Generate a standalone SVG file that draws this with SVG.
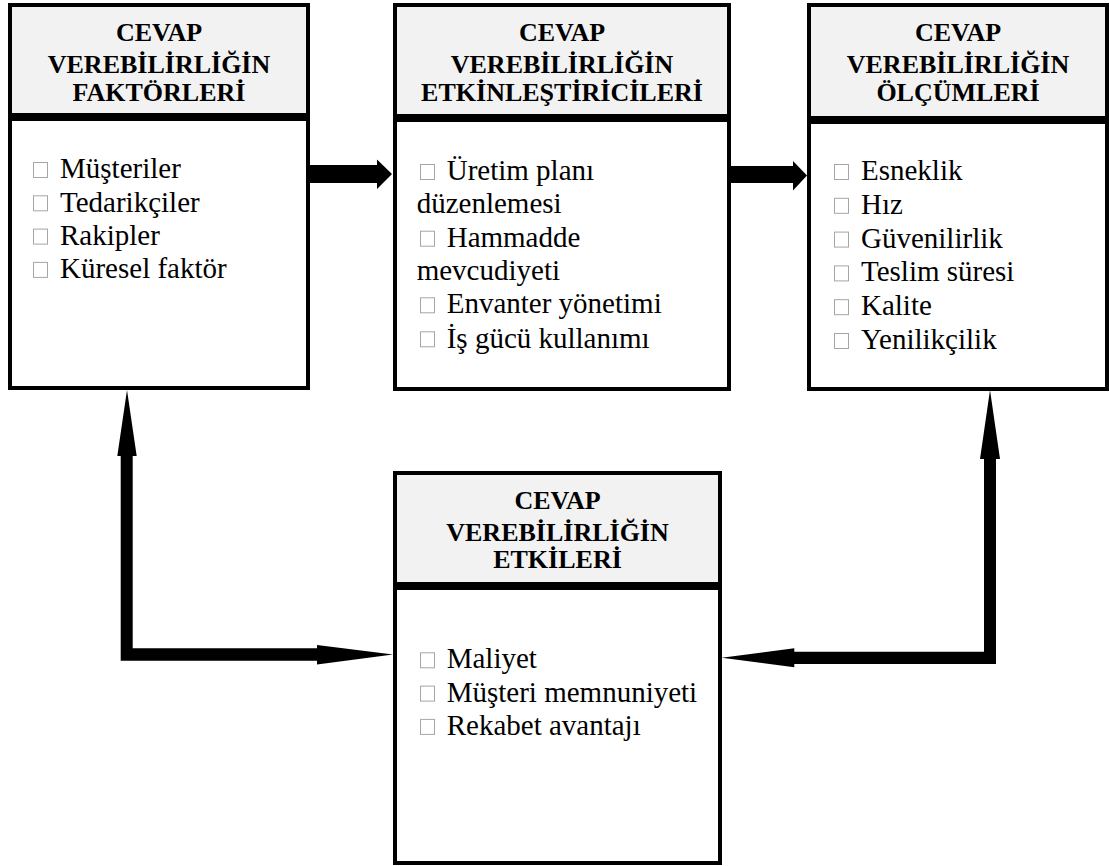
<svg xmlns="http://www.w3.org/2000/svg" width="1109" height="866" viewBox="0 0 1109 866">
<style>
.hd{fill:#f2f2f2;stroke:#000;stroke-width:4}
.bd{fill:#fff;stroke:#000;stroke-width:4}
.ht{font-family:"Liberation Serif","Times New Roman",serif;font-weight:bold;font-size:26px;fill:#000;text-anchor:middle}
.bt{font-family:"Liberation Serif","Times New Roman",serif;font-size:29px;fill:#000}
.cb{fill:none;stroke:#a6a6a6;stroke-width:1}
.ar{fill:#000;stroke:none}
</style>
<rect width="1109" height="866" fill="#fff"/>
<g id="connectors">
<path class="ar" d="M310,165 L377,165 L377,159.5 L392,174 L377,189 L377,183 L310,183 Z"/>
<path class="ar" d="M731,166 L793,166 L793,161 L807,175.5 L793,190.5 L793,183 L731,183 Z"/>
<path class="ar" d="M120.7,660.7 L120.7,456 L117.3,456 L127,390 L136.7,456 L132.7,456 L132.7,648.3 L317,648.3 L317,645 L393,654.5 L317,664.5 L317,660.7 Z"/>
<path class="ar" d="M996,664 L996,459 L1000,459 L990,390 L980,459 L984,459 L984,651.7 L794.3,651.7 L794.3,648.3 L721.7,657.8 L794.3,667.3 L794.3,664 Z"/>
</g>
<g id="node-faktorler">
<rect class="hd" x="10" y="5" width="298" height="110"/>
<rect class="bd" x="10" y="119" width="298" height="269"/>
<text class="ht" x="159" y="40.7">CEVAP</text>
<text class="ht" x="159" y="73.3">VEREBİLİRLİĞİN</text>
<text class="ht" x="159" y="100.7">FAKTÖRLERİ</text>
<rect class="cb" x="33.5" y="162.5" width="14" height="15"/>
<rect class="cb" x="33.5" y="195.8" width="14" height="15"/>
<rect class="cb" x="33.5" y="229.1" width="14" height="15"/>
<rect class="cb" x="33.5" y="262.4" width="14" height="15"/>
<text class="bt" x="60" y="178.3">Müşteriler</text>
<text class="bt" x="60" y="211.6">Tedarikçiler</text>
<text class="bt" x="60" y="244.9">Rakipler</text>
<text class="bt" x="60" y="278.2">Küresel faktör</text>
</g>
<g id="node-etkinlestiriciler">
<rect class="hd" x="395" y="5" width="334" height="111"/>
<rect class="bd" x="395" y="120" width="334" height="269"/>
<text class="ht" x="562" y="40.7">CEVAP</text>
<text class="ht" x="562" y="73.3">VEREBİLİRLİĞİN</text>
<text class="ht" x="562" y="100.7">ETKİNLEŞTİRİCİLERİ</text>
<rect class="cb" x="420.5" y="164.5" width="14" height="15"/>
<rect class="cb" x="420.5" y="231.2" width="14" height="15"/>
<rect class="cb" x="420.5" y="297.8" width="14" height="15"/>
<rect class="cb" x="420.5" y="331.8" width="14" height="15"/>
<text class="bt" x="446.7" y="180">Üretim planı</text>
<text class="bt" x="416.7" y="213.3">düzenlemesi</text>
<text class="bt" x="446.7" y="246.7">Hammadde</text>
<text class="bt" x="416.7" y="280">mevcudiyeti</text>
<text class="bt" x="446.7" y="313.3">Envanter yönetimi</text>
<text class="bt" x="446.7" y="347.5">İş gücü kullanımı</text>
</g>
<g id="node-olcumler">
<rect class="hd" x="809" y="5" width="298" height="113"/>
<rect class="bd" x="809" y="122" width="298" height="267"/>
<text class="ht" x="958" y="40.7">CEVAP</text>
<text class="ht" x="958" y="72.9">VEREBİLİRLİĞİN</text>
<text class="ht" x="958" y="100.7">ÖLÇÜMLERİ</text>
<rect class="cb" x="834.5" y="164.5" width="14" height="15"/>
<rect class="cb" x="834.5" y="198.3" width="14" height="15"/>
<rect class="cb" x="834.5" y="232.1" width="14" height="15"/>
<rect class="cb" x="834.5" y="265.9" width="14" height="15"/>
<rect class="cb" x="834.5" y="299.7" width="14" height="15"/>
<rect class="cb" x="834.5" y="333.5" width="14" height="15"/>
<text class="bt" x="861" y="180">Esneklik</text>
<text class="bt" x="861" y="213.8">Hız</text>
<text class="bt" x="861" y="247.6">Güvenilirlik</text>
<text class="bt" x="861" y="281.4">Teslim süresi</text>
<text class="bt" x="861" y="315.2">Kalite</text>
<text class="bt" x="861" y="349">Yenilikçilik</text>
</g>
<g id="node-etkiler">
<rect class="hd" x="395" y="473" width="325" height="111"/>
<rect class="bd" x="395" y="588" width="325" height="275"/>
<text class="ht" x="557.5" y="508.5">CEVAP</text>
<text class="ht" x="557.5" y="540.5">VEREBİLİRLİĞİN</text>
<text class="ht" x="557.5" y="568.3">ETKİLERİ</text>
<rect class="cb" x="420.5" y="652.8" width="14" height="15"/>
<rect class="cb" x="420.5" y="686.1" width="14" height="15"/>
<rect class="cb" x="420.5" y="719.4" width="14" height="15"/>
<text class="bt" x="446.7" y="668.3">Maliyet</text>
<text class="bt" x="446.7" y="701.6">Müşteri memnuniyeti</text>
<text class="bt" x="446.7" y="734.9">Rekabet avantajı</text>
</g>
</svg>
